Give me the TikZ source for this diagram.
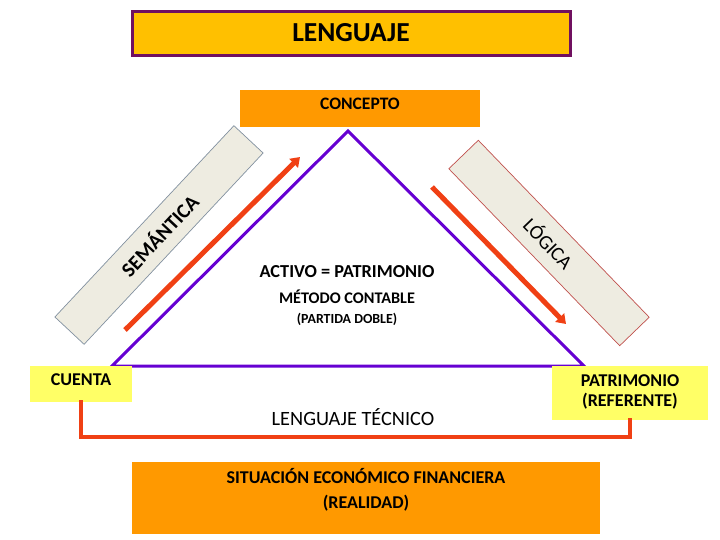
\documentclass[tikz,border=0pt]{standalone}
\usepackage{fontspec}
\setmainfont{Carlito}
\usetikzlibrary{arrows.meta}
\definecolor{gold}{RGB}{255,192,0}
\definecolor{plum}{RGB}{112,16,96}
\definecolor{orng}{RGB}{255,153,0}
\definecolor{viol}{RGB}{102,0,210}
\definecolor{redo}{RGB}{240,64,20}
\definecolor{yel}{RGB}{255,255,102}
\definecolor{pgray}{RGB}{238,236,225}
\definecolor{sgray}{RGB}{130,145,160}
\definecolor{sred}{RGB}{192,80,77}
\tikzset{
  box/.style={draw=none, inner sep=0, outer sep=0},
  band/.style={fill=pgray, line width=0.7pt, inner sep=0, outer sep=0},
  redarrow/.style={draw=redo, line width=5pt, -{Triangle[length=9pt,width=12pt]}},
  redline/.style={draw=redo, line width=4pt},
  bf/.style={font=\bfseries\fontsize{#1}{#1}\selectfont},
  rg/.style={font=\fontsize{#1}{#1}\selectfont},
}
\begin{document}
\begin{tikzpicture}[x=1pt,y=-1pt]
\useasboundingbox (0,0) rectangle (720,540);
% title
\node[box, fill=gold, draw=plum, line width=3pt, minimum width=438, minimum height=44] (title) at (351,34) {};
\node[bf=27.5] (titletext) at (351,33) {LENGUAJE};
% concepto
\node[box, fill=orng, minimum width=240, minimum height=37] (concepto) at (360,108.5) {};
\node[bf=17.5] (conceptotext) at (360,104) {CONCEPTO};
% bands
\node[band, draw=sgray, rotate=46.9, minimum width=262, minimum height=40] (sem) at (159,235)
  {\bfseries\fontsize{20.5}{20.5}\selectfont SEMÁNTICA};
\node[band, draw=sred, rotate=-46, minimum width=246, minimum height=41] (log) at (549,243)
  {\fontsize{20}{20}\selectfont LÓGICA};
% triangle
\coordinate (apex) at (348,131);
\coordinate (bl) at (112,366);
\coordinate (br) at (584,366);
\draw[viol, line width=3pt, line join=miter] (apex) -- (bl) -- (br) -- cycle;
% red arrows
\coordinate (la) at (125,330);
\coordinate (lb) at (300,157);
\coordinate (ra) at (432,187);
\coordinate (rb) at (566,324);
\draw[redarrow] (la) -- (lb);
\draw[redarrow] (ra) -- (rb);
% inner texts
\node[bf=18.3] (activo) at (347,272) {ACTIVO = PATRIMONIO};
\node[bf=16.2] (metodo) at (347,297) {MÉTODO CONTABLE};
\node[bf=13.9] (partida) at (347,319) {(PARTIDA DOBLE)};
% side boxes
\node[box, fill=yel, minimum width=102, minimum height=36] (cuenta) at (81,384) {};
\node[bf=18] (cuentatext) at (81,380) {CUENTA};
\node[box, fill=yel, minimum width=156, minimum height=54] (patr) at (630,393) {};
\node[bf=18, align=center] (patrtext) at (630,391.5) {PATRIMONIO\\[2pt](REFERENTE)};
% connector
\draw[redline, line cap=rect] (cuenta.south) -- ++(0,35) -| (patr.south);
\node[rg=20.3] (tecnico) at (353,417) {LENGUAJE TÉCNICO};
% bottom box
\node[box, fill=orng, minimum width=468, minimum height=72] (sit) at (366,498) {};
\node[bf=18, align=center] (sittext) at (366,489.5) {SITUACIÓN ECONÓMICO FINANCIERA\\[7pt](REALIDAD)};
\end{tikzpicture}
\end{document}
